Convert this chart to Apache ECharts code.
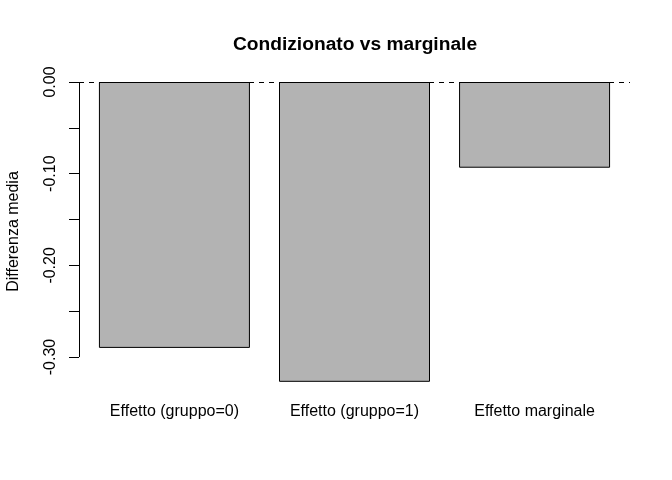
<!DOCTYPE html>
<html>
<head>
<meta charset="utf-8">
<script src="https://cdn.jsdelivr.net/npm/echarts@6/dist/echarts.min.js"></script>
<style>html,body{margin:0;padding:0;background:#fff}#c{width:672px;height:480px}</style>
</head>
<body>
<div id="c"></div>
<script>
const categories = ["Effetto (gruppo=0)", "Effetto (gruppo=1)", "Effetto marginale"];
const values = [-0.290, -0.327, -0.0935];
const yTicks = [0, -0.05, -0.10, -0.15, -0.20, -0.25, -0.30];
const yLabels = [0, -0.10, -0.20, -0.30];

// R barplot geometry (width 1, space 0.2)
const barPos = categories.map((c, i) => 0.2 + i * 1.2 + 0.5);
const xMin = 0.064, xMax = 3.736;
const yMin = -0.3392, yMax = 0.0131;

const chart = echarts.init(document.getElementById('c'), null, {renderer: 'canvas'});
const font = 'Liberation Sans, Arial, Helvetica, sans-serif';
chart.setOption({
  animation: false,
  backgroundColor: '#fff',
  title: {
    text: 'Condizionato vs marginale',
    left: 350, top: 30, textAlign: 'center',
    textStyle: {fontFamily: font, fontSize: 19.2, fontWeight: 'bold', color: '#000'}
  },
  grid: {left: 79, right: 42, top: 70, bottom: 87, containLabel: false, outerBoundsMode: 'none'},
  xAxis: {
    type: 'value', min: xMin, max: xMax,
    axisLine: {show: false}, axisTick: {show: false}, splitLine: {show: false},
    axisLabel: {
      customValues: barPos, margin: 11,
      fontFamily: font, fontSize: 16, color: '#000',
      formatter: v => categories[Math.round((v - 0.7) / 1.2)]
    }
  },
  yAxis: {
    type: 'value', min: yMin, max: yMax,
    name: 'Differenza media', nameLocation: 'middle', nameRotate: 90, nameGap: 57,
    nameTextStyle: {fontFamily: font, fontSize: 16, color: '#000'},
    axisLine: {show: false}, splitLine: {show: false},
    axisTick: {show: true, customValues: yTicks, length: 10, lineStyle: {color: '#000', width: 1}},
    axisLabel: {
      customValues: yLabels, rotate: 90, margin: 20,
      fontFamily: font, fontSize: 16, color: '#000',
      formatter: v => v.toFixed(2)
    }
  },
  series: [{
    type: 'bar',
    data: barPos.map((x, i) => [x, values[i]]),
    barWidth: 151,
    itemStyle: {color: '#B3B3B3', borderColor: '#000', borderWidth: 1},
    markLine: {
      silent: true, symbol: 'none', label: {show: false},
      data: [
        {yAxis: 0, lineStyle: {type: [5, 5], color: '#000', width: 1}},
        [{coord: [xMin, yLabels[0]], lineStyle: {type: 'solid', color: '#000', width: 1}},
         {coord: [xMin, yLabels[yLabels.length - 1]]}]
      ]
    }
  }]
});
</script>
</body>
</html>
